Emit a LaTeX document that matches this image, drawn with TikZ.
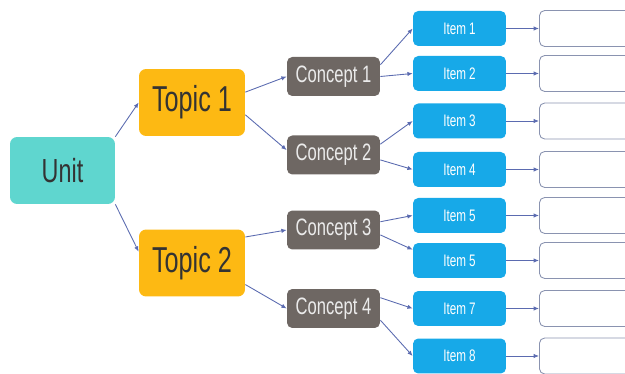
\documentclass[tikz,border=0pt]{standalone}
\usepackage{fontspec}
\setmainfont{Liberation Sans}[FakeStretch=0.7]
\usepackage{tikz}
\usetikzlibrary{arrows.meta, positioning}

\definecolor{unitcol}{HTML}{5FD6CF}
\definecolor{topiccol}{HTML}{FDB913}
\definecolor{conceptcol}{HTML}{6E6763}
\definecolor{itemcol}{HTML}{17A9E8}
\definecolor{linkcol}{HTML}{5B6BB0}
\definecolor{blankcol}{HTML}{8A93B0}

\begin{document}
\begin{tikzpicture}[x=0.02cm, y=-0.02cm,
  unitbox/.style={fill=unitcol, rounded corners=4pt, minimum width=2.1cm, minimum height=1.34cm,
    inner sep=0pt, font=\fontsize{19}{21}\selectfont, text=black!80},
  topicbox/.style={unitbox, fill=topiccol, minimum width=2.12cm, font=\fontsize{20.5}{22}\selectfont},
  conceptbox/.style={fill=conceptcol, rounded corners=3pt, minimum width=1.86cm, minimum height=0.78cm,
    inner sep=0pt, font=\fontsize{13.5}{15}\selectfont, text=white!92!black},
  itembox/.style={fill=itemcol, rounded corners=3pt, minimum width=1.86cm, minimum height=0.7cm,
    inner sep=0pt, font=\fontsize{9.5}{11}\selectfont, text=white},
  blankbox/.style={draw=blankcol, line width=0.5pt, rounded corners=3pt, minimum width=2.2cm,
    minimum height=0.72cm, anchor=west, inner sep=0pt},
  arrow/.style={-{Latex[length=3pt,width=2.5pt]}, linkcol, line width=0.5pt}
]
  \useasboundingbox (0,0) rectangle (625,374);
  \clip (0,0) rectangle (625,374);

  \node[unitbox] (unit) at (62.5,170.5) {Unit};
  \node[topicbox] (t1) at (192,102.5) {Topic 1};
  \node[topicbox] (t2) at (192,263) {Topic 2};

  \node[conceptbox] (c1) at (333.5,76.5) {Concept 1};
  \node[conceptbox] (c2) at (333.5,155) {Concept 2};
  \node[conceptbox] (c3) at (333.5,230) {Concept 3};
  \node[conceptbox] (c4) at (333.5,308.5) {Concept 4};

  % items and the empty boxes beside them
  \foreach \n/\y/\t in {1/28.5/Item 1, 2/73.5/Item 2, 3/121/Item 3, 4/169.5/Item 4,
      5/215.5/Item 5, 6/260.5/Item 5, 7/308.5/Item 7, 8/356/Item 8} {
    \node[itembox] (i\n) at (459.5,\y) {\t};
    \node[blankbox] (b\n) at (539,\y) {};
    \draw[arrow] (i\n) -- (b\n);
  }

  \draw[arrow] (unit.north east) -- (t1.west);
  \draw[arrow] (unit.south east) -- (t2.168);

  \draw[arrow] (t1.11) -- (c1.west);
  \draw[arrow] (t1.-13) -- (c2.174);
  \draw[arrow] (t2.26) -- (c3.west);
  \draw[arrow] (t2.-22) -- (c4.west);

  \draw[arrow] (c1.14) -- (i1.west);
  \draw[arrow] (c1.east) -- (i2.west);
  \draw[arrow] (c2.13) -- (i3.west);
  \draw[arrow] (c2.-6) -- (i4.west);
  \draw[arrow] (c3.10) -- (i5.west);
  \draw[arrow] (c3.-6) -- (i6.167);
  \draw[arrow] (c4.13) -- (i7.west);
  \draw[arrow] (c4.-14) -- (i8.west);
\end{tikzpicture}
\end{document}
